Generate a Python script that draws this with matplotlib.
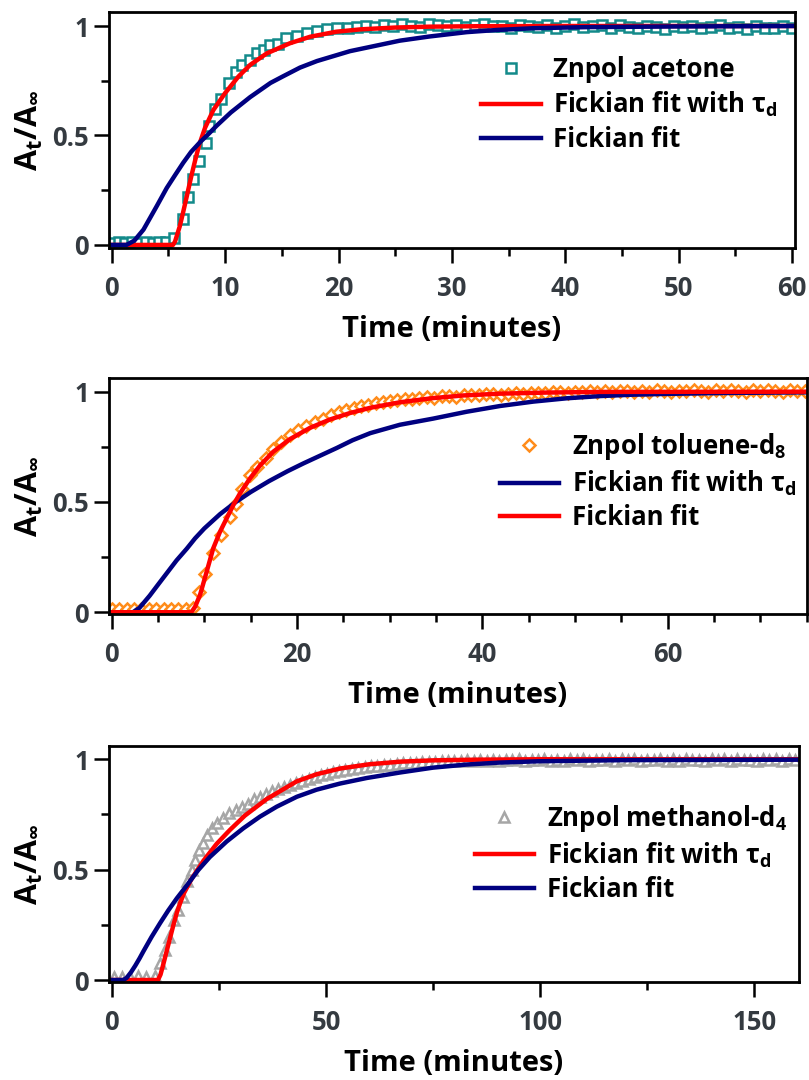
import matplotlib
matplotlib.use("Agg")
import matplotlib.pyplot as plt
from matplotlib import font_manager as fm
from matplotlib.ticker import MultipleLocator, FixedLocator


def bold_family(candidates):
    """First family in the list that ships a real bold face."""
    for fam in candidates:
        for entry in fm.fontManager.ttflist:
            if entry.name != fam:
                continue
            w = entry.weight
            if isinstance(w, str):
                w = fm.weight_dict.get(w, 400)
            if w >= 600:
                return fam
    return 'DejaVu Sans'


FAMILY = bold_family(['Open Sans', 'Noto Sans', 'Lato', 'Roboto', 'Inter',
                      'Liberation Sans', 'DejaVu Sans'])

plt.rcParams['font.family'] = [FAMILY, 'DejaVu Sans']
plt.rcParams['font.weight'] = 'bold'
plt.rcParams['mathtext.fontset'] = 'custom'
plt.rcParams['mathtext.rm'] = f'{FAMILY}:bold'
plt.rcParams['mathtext.bf'] = f'{FAMILY}:bold'
plt.rcParams['mathtext.it'] = f'{FAMILY}:bold'
plt.rcParams['mathtext.default'] = 'bf'

# ---------------- Znpol acetone ----------------
acetone_t = [0.0, 0.6, 1.2, 1.8, 2.4, 3.0, 3.6, 4.2, 4.8, 5.5,
             6.25, 6.7, 7.2, 7.7, 8.3, 8.6, 9.1, 9.6, 10.3, 11.0,
             11.5, 12.2, 12.8, 13.4, 14.0, 14.7, 15.4, 16.3, 17.2, 18.1,
             19.0, 19.9, 20.8,
             21.6, 22.4, 23.2, 24.0, 24.8, 25.6, 26.4, 27.2, 28.0, 28.8,
             29.6, 30.4, 31.2, 32.0, 32.8, 33.6, 34.4, 35.2, 36.0, 36.8,
             37.6, 38.4, 39.2, 40.0, 40.8, 41.6, 42.4, 43.2, 44.0, 44.8,
             45.6, 46.4, 47.2, 48.0, 48.8, 49.6, 50.4, 51.2, 52.0, 52.8,
             53.6, 54.4, 55.2, 56.0, 56.8, 57.6, 58.4, 59.2, 60.0]
acetone_v = [0.010, 0.012, 0.010, 0.013, 0.011, 0.012, 0.010, 0.013, 0.012, 0.030,
             0.119, 0.218, 0.300, 0.385, 0.467, 0.543, 0.620, 0.665, 0.741, 0.790,
             0.820, 0.845, 0.875, 0.890, 0.913, 0.920, 0.944, 0.954, 0.967, 0.975,
             0.988, 0.990, 0.992,
             0.996, 1.001, 0.994, 1.004, 0.999, 1.008, 1.002, 0.997, 1.010, 1.003,
             0.999, 1.006, 0.995, 1.004, 1.008, 0.998, 1.002, 0.993, 1.006, 1.000,
             0.996, 1.004, 0.991, 1.001, 1.007, 0.995, 0.999, 1.003, 0.992, 1.005,
             0.997, 0.990, 1.002, 0.996, 0.988, 1.001, 0.994, 0.999, 0.989, 0.996,
             1.003, 0.991, 0.995, 0.987, 0.998, 0.993, 0.989, 1.000, 0.992]
acetone_tau_t = [0.0, 5.4, 5.58, 6.0, 6.3, 6.61, 7.0, 7.35, 7.73, 8.23,
                 8.96, 9.99, 11.17, 12.2, 13.67, 15.7, 17.5, 19.8, 22.0, 25.0,
                 28.0, 32.0, 40.0, 60.3]
acetone_tau_v = [0.0, 0.0, 0.015, 0.085, 0.15, 0.22, 0.31, 0.385, 0.46, 0.535,
                 0.616, 0.693, 0.769, 0.822, 0.875, 0.921, 0.951, 0.974, 0.985, 0.993,
                 0.997, 0.999, 1.0, 1.0]
acetone_fit_t = [0.0, 1.3, 2.0, 2.8, 3.4, 4.0, 4.85, 5.6, 6.3, 7.0,
                 7.8, 8.5, 9.26, 10.5, 12.2, 14.0, 15.1, 16.6, 18.1, 21.0,
                 25.4, 28.0, 31.3, 34.0, 37.2, 42.0, 50.0, 60.3]
acetone_fit_v = [0.0, 0.0, 0.02, 0.07, 0.125, 0.18, 0.26, 0.32, 0.375, 0.425,
                 0.47, 0.505, 0.545, 0.605, 0.675, 0.74, 0.77, 0.81, 0.84, 0.885,
                 0.933, 0.952, 0.972, 0.982, 0.99, 0.995, 0.998, 1.0]

# ---------------- Znpol toluene-d8 ----------------
toluene_t = [0.0, 0.8, 1.6, 2.4, 3.2, 4.0, 4.8, 5.6, 6.4, 7.2, 8.0, 8.8,
             9.4, 10.1, 10.95, 11.8, 12.8, 13.4, 14.1, 14.9, 15.7, 16.6,
             17.4, 18.3, 19.2, 20.1, 21.0, 21.9, 22.8, 23.7, 24.5, 25.3,
             26.1, 26.9, 27.7, 28.5, 29.3,
             30.0, 30.8, 31.6, 32.4, 33.2, 34.0, 34.8, 35.6, 36.4, 37.2,
             38.0, 38.8, 39.6, 40.4, 41.2, 42.0, 42.8, 43.6, 44.4, 45.2,
             46.0, 46.8, 47.6, 48.4, 49.2, 50.0, 50.8, 51.6, 52.4, 53.2,
             54.0, 54.8, 55.6, 56.4, 57.2, 58.0, 58.8, 59.6, 60.4, 61.2,
             62.0, 62.8, 63.6, 64.4, 65.2, 66.0, 66.8, 67.6, 68.4, 69.2,
             70.0, 70.8, 71.6, 72.4, 73.2, 74.0, 74.8]
toluene_v = [0.015, 0.013, 0.016, 0.014, 0.015, 0.013, 0.016, 0.014, 0.015, 0.013, 0.016, 0.018,
             0.09, 0.175, 0.27, 0.352, 0.43, 0.49, 0.56, 0.62, 0.66, 0.70,
             0.742, 0.773, 0.803, 0.826, 0.843, 0.863, 0.878, 0.893, 0.906, 0.917,
             0.926, 0.934, 0.941, 0.947, 0.953,
             0.958, 0.962, 0.966, 0.969, 0.972, 0.975, 0.973, 0.979, 0.981, 0.978,
             0.984, 0.986, 0.983, 0.988, 0.990, 0.987, 0.991, 0.993, 0.989, 0.994,
             0.996, 0.992, 0.997, 0.999, 0.994, 1.000, 0.997, 1.002, 0.998, 1.003,
             0.999, 1.005, 1.001, 0.997, 1.004, 1.000, 1.006, 1.002, 0.998, 1.005,
             1.001, 1.007, 1.003, 0.999, 1.006, 1.002, 1.008, 1.004, 1.000, 1.006,
             1.002, 1.008, 1.003, 0.999, 1.007, 1.004, 1.001]
toluene_tau_t = [0.0, 8.6, 9.0, 9.53, 10.25, 10.96, 11.69, 12.41, 13.13, 13.85,
                 14.93, 16.0, 17.44, 19.24, 21.4, 23.56, 25.7, 27.9, 31.1, 34.7,
                 38.0, 41.9, 47.0, 52.7, 75.1]
toluene_tau_v = [0.0, 0.0, 0.025, 0.078, 0.184, 0.29, 0.365, 0.426, 0.486, 0.539,
                 0.607, 0.665, 0.728, 0.785, 0.836, 0.874, 0.903, 0.927, 0.952, 0.971,
                 0.983, 0.991, 0.996, 0.999, 1.0]
toluene_fit_t = [0.0, 2.3, 3.0, 4.1, 5.0, 6.0, 7.0, 8.1, 9.0, 10.0,
                 11.7, 13.4, 15.0, 17.0, 19.0, 20.7, 22.5, 24.3, 26.0, 27.9,
                 31.1, 34.7, 38.3, 41.9, 45.5, 49.1, 52.7, 56.0, 59.9, 66.0, 75.1]
toluene_fit_v = [0.0, 0.0, 0.02, 0.075, 0.125, 0.18, 0.235, 0.288, 0.335, 0.38,
                 0.445, 0.5, 0.545, 0.595, 0.64, 0.675, 0.71, 0.745, 0.78, 0.812,
                 0.85, 0.878, 0.909, 0.935, 0.955, 0.97, 0.98, 0.986, 0.99, 0.994, 0.997]

# ---------------- Znpol methanol-d4 ----------------
methanol_t = [0.5, 2.4, 4.3, 6.2, 8.1, 10.0,
              11.3, 12.4, 13.4, 14.6, 15.5, 16.6, 17.6, 18.7, 19.5, 20.3,
              21.3, 22.2, 23.3, 24.5, 25.9, 27.4, 28.9, 30.3, 31.7, 33.1,
              34.6, 36.0, 37.4, 38.8, 40.3, 41.7, 43.1, 44.5, 46.0, 47.4,
              48.8, 50.2, 51.7, 53.1,
              54.5, 56.0, 57.5, 59.0, 60.5, 62.0, 63.5, 65.0, 66.5, 68.0,
              69.5, 71.0, 72.5, 74.0, 75.5, 77.0, 78.5, 80.0, 81.5, 83.0,
              84.5, 86.0, 87.5, 89.0, 90.5, 92.0, 93.5, 95.0, 96.5, 98.0,
              99.5, 101.0, 102.5, 104.0, 105.5, 107.0, 108.5, 110.0, 111.5, 113.0,
              114.5, 116.0, 117.5, 119.0, 120.5, 122.0, 123.5, 125.0, 126.5, 128.0,
              129.5, 131.0, 132.5, 134.0, 135.5, 137.0, 138.5, 140.0, 141.5, 143.0,
              144.5, 146.0, 147.5, 149.0, 150.5, 152.0, 153.5, 155.0, 156.5, 158.0,
              159.5]
methanol_v = [0.012, 0.015, 0.013, 0.016, 0.014, 0.018,
              0.076, 0.136, 0.196, 0.27, 0.317, 0.378, 0.45, 0.498, 0.544, 0.589,
              0.62, 0.657, 0.687, 0.71, 0.733, 0.755, 0.772, 0.785, 0.797, 0.818,
              0.83, 0.842, 0.856, 0.866, 0.874, 0.884, 0.892, 0.902, 0.912, 0.921,
              0.928, 0.935, 0.942, 0.948,
              0.953, 0.957, 0.961, 0.965, 0.968, 0.971, 0.974, 0.976, 0.979, 0.981,
              0.983, 0.985, 0.986, 0.988, 0.989, 0.991, 0.990, 0.993, 0.992, 0.995,
              0.993, 0.996, 0.994, 0.997, 0.992, 0.998, 0.995, 0.999, 0.993, 0.998,
              0.995, 1.000, 0.994, 0.998, 0.992, 0.999, 0.995, 1.001, 0.993, 0.998,
              0.996, 1.000, 0.992, 0.999, 0.995, 1.001, 0.993, 0.998, 0.996, 1.000,
              0.994, 0.999, 0.992, 1.001, 0.995, 0.998, 0.993, 1.000, 0.996, 0.999,
              0.992, 1.001, 0.995, 0.998, 0.993, 1.000, 0.996, 0.999, 0.994, 1.001,
              0.997]
methanol_tau_t = [0.0, 10.8, 11.4, 12.0, 13.2, 14.4, 15.2, 16.0, 16.9, 18.7,
                  21.4, 24.5, 27.6, 31.1, 36.2, 43.2, 47.8, 53.3, 60.0, 67.3,
                  75.0, 85.0, 100.0, 160.5]
methanol_tau_v = [0.0, 0.0, 0.025, 0.068, 0.159, 0.249, 0.305, 0.35, 0.395, 0.46,
                  0.54, 0.617, 0.68, 0.745, 0.82, 0.90, 0.932, 0.958, 0.977, 0.989,
                  0.995, 0.998, 1.0, 1.0]
methanol_fit_t = [0.0, 2.7, 3.5, 4.5, 5.5, 6.5, 7.4, 9.3, 11.3, 13.2,
                  15.2, 17.6, 20.2, 22.9, 26.8, 30.7, 34.6, 38.5, 43.2, 47.8,
                  53.3, 59.5, 67.3, 75.0, 82.8, 90.6, 100.0, 120.0, 160.5]
methanol_fit_v = [0.0, 0.0, 0.01, 0.035, 0.065, 0.098, 0.13, 0.195, 0.258, 0.315,
                  0.37, 0.43, 0.498, 0.557, 0.627, 0.687, 0.74, 0.785, 0.83, 0.862,
                  0.89, 0.915, 0.94, 0.962, 0.976, 0.985, 0.991, 0.996, 0.998]

TEAL = '#138a8a'
ORANGE = '#ff8c1a'
GRAY = '#a6a6a6'
RED = '#ff0000'
NAVY = '#000080'
TICKC = '#343a40'
FS = 18.5

W, H = 809, 1080
fig = plt.figure(figsize=(W / 100, H / 100), dpi=100)


def make_axes(left, top, right, bottom):
    return fig.add_axes([left / W, 1 - bottom / H, (right - left) / W, (bottom - top) / H])


def style(ax, xlim, ylim, major, minor):
    ax.set_xlim(*xlim)
    ax.set_ylim(*ylim)
    ax.xaxis.set_major_locator(MultipleLocator(major))
    ax.xaxis.set_minor_locator(MultipleLocator(minor))
    ax.yaxis.set_major_locator(FixedLocator([0, 0.5, 1]))
    ax.yaxis.set_minor_locator(FixedLocator([0.25, 0.75]))
    ax.set_yticklabels(['0', '0.5', '1'])
    for s in ax.spines.values():
        s.set_linewidth(2.0)
    ax.tick_params(which='major', direction='out', length=10.5, width=1.8,
                   labelsize=FS, labelcolor=TICKC)
    ax.tick_params(which='minor', direction='out', length=6, width=1.8)
    ax.tick_params(axis='x', which='major', pad=9)
    ax.tick_params(axis='y', which='major', pad=4)
    for lab in ax.get_xticklabels() + ax.get_yticklabels():
        lab.set_fontweight('bold')
    ax.set_xlabel('Time (minutes)', fontsize=21, fontweight='bold', labelpad=9)
    ax.set_ylabel(r'$A_t/A_\infty$', fontsize=22, labelpad=5)


LW = 3.2

# panel 1
ax1 = make_axes(109, 12, 795, 248)
ax1.plot(acetone_t, acetone_v, ls='none', marker='s', ms=7.0, mfc='white',
         mec=TEAL, mew=1.8, label='Znpol acetone')
ax1.plot(acetone_tau_t, acetone_tau_v, color=RED, lw=LW, label=r'Fickian fit with $τ_d$')
ax1.plot(acetone_fit_t, acetone_fit_v, color=NAVY, lw=LW, label='Fickian fit')
style(ax1, (-0.24, 60.25), (-0.014, 1.064), 10, 5)

# panel 2
ax2 = make_axes(109, 378, 807, 614)
ax2.plot(toluene_t, toluene_v, ls='none', marker='D', ms=6.2, mfc='white',
         mec=ORANGE, mew=1.8, label=r'Znpol toluene-$d_8$')
ax2.plot(toluene_fit_t, toluene_fit_v, color=NAVY, lw=LW, label=r'Fickian fit with $τ_d$')
ax2.plot(toluene_tau_t, toluene_tau_v, color=RED, lw=LW, label='Fickian fit')
style(ax2, (-0.29, 75.03), (-0.008, 1.062), 20, 5)

# panel 3
ax3 = make_axes(109, 746, 799, 982)
ax3.plot(methanol_t, methanol_v, ls='none', marker='^', ms=7.5, mfc='white',
         mec=GRAY, mew=1.8, label=r'Znpol methanol-$d_4$')
ax3.plot(methanol_tau_t, methanol_tau_v, color=RED, lw=LW, label=r'Fickian fit with $τ_d$')
ax3.plot(methanol_fit_t, methanol_fit_v, color=NAVY, lw=LW, label='Fickian fit')
style(ax3, (-0.63, 160.4), (-0.009, 1.06), 50, 25)

for ax, anchor in ((ax1, (0.543, 0.812)), (ax2, (0.560, 0.775)), (ax3, (0.530, 0.760))):
    ax.legend(loc='upper left', bbox_to_anchor=anchor, frameon=False, borderpad=0,
              borderaxespad=0, handlelength=2.3, handletextpad=0.5, labelspacing=0.25,
              prop={'size': FS, 'weight': 'bold'})

fig.savefig('out.png', dpi=100)
